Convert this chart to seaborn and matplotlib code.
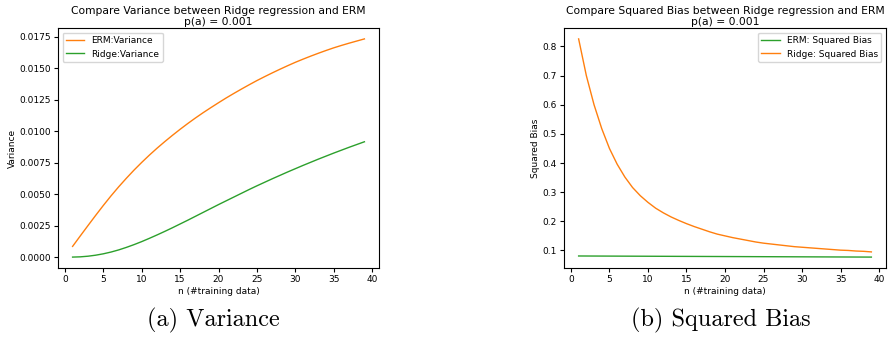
import matplotlib
matplotlib.use("Agg")
import matplotlib.pyplot as plt
import seaborn as sns
import pandas as pd

n_train = list(range(1, 40))

erm_variance = [0.00085, 0.00168, 0.00250, 0.00331, 0.00410, 0.00486, 0.00558, 0.00626, 0.00691, 0.00752,
                0.00810, 0.00865, 0.00917, 0.00967, 0.01015, 0.01061, 0.01105, 0.01147, 0.01187, 0.01226,
                0.01264, 0.01300, 0.01335, 0.01369, 0.01402, 0.01433, 0.01463, 0.01492, 0.01520, 0.01547,
                0.01572, 0.01596, 0.01619, 0.01641, 0.01662, 0.01681, 0.01699, 0.01716, 0.01733]
ridge_variance = [0.0, 0.00002, 0.00007, 0.00015, 0.00026, 0.00040, 0.00057, 0.00077, 0.00099, 0.00123,
                  0.00149, 0.00176, 0.00204, 0.00233, 0.00263, 0.00293, 0.00324, 0.00355, 0.00386, 0.00417,
                  0.00447, 0.00477, 0.00507, 0.00537, 0.00566, 0.00594, 0.00622, 0.00649, 0.00676, 0.00702,
                  0.00728, 0.00753, 0.00778, 0.00802, 0.00826, 0.00849, 0.00872, 0.00894, 0.00916]

ridge_bias = [0.826, 0.700, 0.600, 0.518, 0.450, 0.396, 0.352, 0.316, 0.288, 0.265,
              0.245, 0.229, 0.215, 0.203, 0.192, 0.182, 0.173, 0.164, 0.156, 0.150,
              0.144, 0.139, 0.134, 0.129, 0.125, 0.122, 0.119, 0.116, 0.113, 0.111,
              0.109, 0.107, 0.105, 0.103, 0.101, 0.100, 0.098, 0.097, 0.095]
erm_bias = [0.0810, 0.0809, 0.0808, 0.0807, 0.0806, 0.0805, 0.0804, 0.0803, 0.0802, 0.0801,
            0.0800, 0.0799, 0.0798, 0.0797, 0.0796, 0.0795, 0.0794, 0.0793, 0.0792, 0.0791,
            0.0790, 0.0789, 0.0788, 0.0787, 0.0786, 0.0785, 0.0784, 0.0783, 0.0782, 0.0781,
            0.0780, 0.0779, 0.0778, 0.0777, 0.0776, 0.0775, 0.0774, 0.0773, 0.0772]

ORANGE = "#ff7f0e"
GREEN = "#2ca02c"
FS = 6.5
TFS = 7.75

fig = plt.figure(figsize=(8.91, 3.38), dpi=100)
ax1 = fig.add_axes([58/891, 70/338, 321/891, 240/338])
ax2 = fig.add_axes([564/891, 70/338, 322/891, 240/338])

df_v = pd.DataFrame({"n": n_train, "erm": erm_variance, "ridge": ridge_variance})
sns.lineplot(data=df_v, x="n", y="erm", ax=ax1, color=ORANGE, lw=1.0, label="ERM:Variance")
sns.lineplot(data=df_v, x="n", y="ridge", ax=ax1, color=GREEN, lw=1.0, label="Ridge:Variance")
ax1.set_title("Compare Variance between Ridge regression and ERM\np(a) = 0.001", fontsize=TFS, pad=2, linespacing=1.15)
ax1.set_xlabel("n (#training data)", fontsize=FS, labelpad=2)
ax1.set_ylabel("Variance", fontsize=FS, labelpad=2)
ax1.set_xticks([0, 5, 10, 15, 20, 25, 30, 35, 40])
ax1.set_yticks([0.0, 0.0025, 0.005, 0.0075, 0.01, 0.0125, 0.015, 0.0175])
ax1.yaxis.set_major_formatter(matplotlib.ticker.FormatStrFormatter("%.4f"))
ax1.tick_params(labelsize=FS, length=3, pad=2)
ax1.legend(loc="upper left", fontsize=FS)

df_b = pd.DataFrame({"n": n_train, "erm": erm_bias, "ridge": ridge_bias})
sns.lineplot(data=df_b, x="n", y="erm", ax=ax2, color=GREEN, lw=1.0, label="ERM: Squared Bias")
sns.lineplot(data=df_b, x="n", y="ridge", ax=ax2, color=ORANGE, lw=1.0, label="Ridge: Squared Bias")
ax2.set_title("Compare Squared Bias between Ridge regression and ERM\np(a) = 0.001", fontsize=TFS, pad=2, linespacing=1.15)
ax2.set_xlabel("n (#training data)", fontsize=FS, labelpad=2)
ax2.set_ylabel("Squared Bias", fontsize=FS, labelpad=2)
ax2.set_xticks([0, 5, 10, 15, 20, 25, 30, 35, 40])
ax2.set_yticks([0.1, 0.2, 0.3, 0.4, 0.5, 0.6, 0.7, 0.8])
ax2.tick_params(labelsize=FS, length=3, pad=2)
ax2.legend(loc="upper right", fontsize=FS)

fig.text(213/891, 1 - 320/338, "(a) Variance", fontsize=17.5, family="cmr10", ha="center", va="center")
fig.text(721/891, 1 - 320/338, "(b) Squared Bias", fontsize=17.5, family="cmr10", ha="center", va="center")

fig.savefig("out.png", dpi=100)
